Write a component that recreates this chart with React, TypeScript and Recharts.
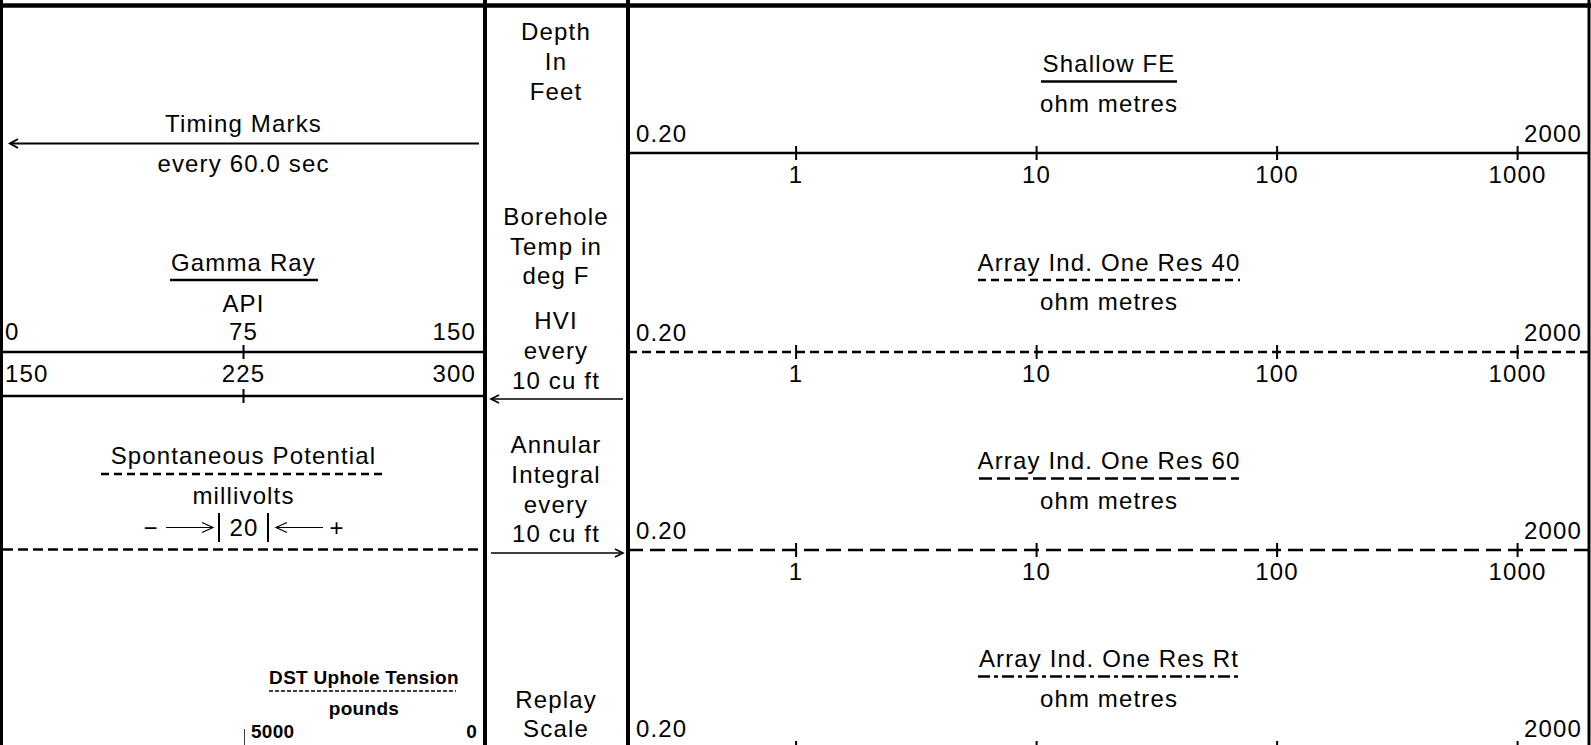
import React from 'react';
import { ComposedChart, XAxis, YAxis, Customized } from 'recharts';

const resistivityCurves = ['Shallow FE', 'Array Ind. One Res 40', 'Array Ind. One Res 60', 'Array Ind. One Res Rt'];
const resistivityUnit = 'ohm metres';
const resistivityDomain = [0.2, 2000];
const resistivityTicks = [0.2, 1, 10, 100, 1000, 2000];
const resistivityTickLabels = ['0.20', '1', '10', '100', '1000', '2000'];

const gammaCurve = 'Gamma Ray';
const gammaUnit = 'API';
const gammaDomain = [0, 150];
const gammaTicks = [0, 75, 150];
const gammaBackupDomain = [150, 300];
const gammaBackupTicks = [150, 225, 300];

const spCurve = 'Spontaneous Potential';
const spUnit = 'millivolts';
const spDivision = '20';

const tensionCurve = 'DST Uphole Tension';
const tensionUnit = 'pounds';
const tensionDomain = [0, 5000];
const tensionTicks = [5000, 0];

const timingLabel = ['Timing Marks', 'every 60.0 sec'];
const depthLabel = ['Depth', 'In', 'Feet'];
const tempLabel = ['Borehole', 'Temp in', 'deg F'];
const hviLabel = ['HVI', 'every', '10 cu ft'];
const annularLabel = ['Annular', 'Integral', 'every', '10 cu ft'];
const replayLabel = ['Replay', 'Scale'];

// ---------- layout / style constants ----------
const W = 1591;
const H = 745;
const FONT = "'Liberation Sans', Arial, Helvetica, sans-serif";
const X_DIV1 = 485;
const X_DIV2 = 628;
const LEFT_MID = 243.5;
const CENTER_MID = 556;
const RIGHT_MID = 1109;
const RES_LINES = [153, 351.5, 550, 748];
const RES_LINE_DASH = [undefined, '9 5', '15 7', '14 4 4 4'];
const RES_UNDER_DASH = [undefined, '8 5', '13 5', '12 4 4 4'];
const RES_UNDER_HALF = [68, 131, 130, 131];

const T = ({ x, y, children, anchor = 'middle', size = 24, bold = false }: any) => (
  <text
    x={x}
    y={y}
    textAnchor={anchor}
    fontFamily={FONT}
    fontSize={size}
    fontWeight={bold ? 'bold' : 'normal'}
    letterSpacing={bold ? 0.3 : 1.15}
    fill="#000"
  >
    {children}
  </text>
);

const Arrow = ({ from, tip, y, sw = 1.6, head = 8, spread = 4 }: any) => {
  const s = tip > from ? 1 : -1;
  return (
    <g stroke="#000" strokeWidth={sw} fill="none">
      <line x1={from} x2={tip} y1={y} y2={y} />
      <polyline points={`${tip - s * head},${y - spread} ${tip},${y} ${tip - s * head},${y + spread}`} />
    </g>
  );
};

const Frame = () => (
  <g>
    <rect x={0} y={0} width={W} height={H} fill="#fff" />
    {/* borders and track dividers */}
    <g stroke="#000">
      <line x1={0} x2={W} y1={5.5} y2={5.5} strokeWidth={4.5} />
      <line x1={1.5} x2={1.5} y1={0} y2={H} strokeWidth={3} />
      <line x1={X_DIV1} x2={X_DIV1} y1={0} y2={H} strokeWidth={4} />
      <line x1={X_DIV2} x2={X_DIV2} y1={0} y2={H} strokeWidth={4} />
      <line x1={1589} x2={1589} y1={0} y2={H} strokeWidth={3} />
    </g>

    {/* left track */}
    <T x={LEFT_MID} y={132}>{timingLabel[0]}</T>
    <Arrow from={479} tip={10} y={143.5} sw={2} head={8} spread={4.5} />
    <T x={LEFT_MID} y={172}>{timingLabel[1]}</T>

    <T x={LEFT_MID} y={270.5}>{gammaCurve}</T>
    <line x1={170} x2={318} y1={280} y2={280} stroke="#000" strokeWidth={2.5} />
    <T x={LEFT_MID} y={312}>{gammaUnit}</T>

    <T x={LEFT_MID} y={463.5}>{spCurve}</T>
    <line x1={101} x2={385} y1={474} y2={474} stroke="#000" strokeWidth={2.5} strokeDasharray="8 5" />
    <T x={LEFT_MID} y={504}>{spUnit}</T>
    <T x={151} y={535.5}>−</T>
    <Arrow from={166} tip={213} y={527.5} sw={1.2} head={11} spread={5} />
    <line x1={219} x2={219} y1={513} y2={542} stroke="#000" strokeWidth={2} />
    <T x={244} y={535.5}>{spDivision}</T>
    <line x1={268} x2={268} y1={513} y2={542} stroke="#000" strokeWidth={2} />
    <Arrow from={323} tip={276} y={527.5} sw={1.2} head={11} spread={5} />
    <T x={337} y={535.5}>+</T>
    <line x1={3} x2={483} y1={549.5} y2={549.5} stroke="#000" strokeWidth={2.5} strokeDasharray="10 5" />

    <T x={364} y={684} size={19} bold>{tensionCurve}</T>
    <line x1={269} x2={456} y1={691} y2={691} stroke="#000" strokeWidth={1.5} strokeDasharray="4 2" />
    <T x={364} y={715} size={19} bold>{tensionUnit}</T>

    {/* depth track */}
    {depthLabel.map((s, i) => (
      <T key={'d' + i} x={CENTER_MID} y={40 + i * 29.8}>{s}</T>
    ))}
    {tempLabel.map((s, i) => (
      <T key={'t' + i} x={CENTER_MID} y={225 + i * 29.5}>{s}</T>
    ))}
    {hviLabel.map((s, i) => (
      <T key={'h' + i} x={CENTER_MID} y={329 + i * 30}>{s}</T>
    ))}
    <Arrow from={623} tip={491} y={399} sw={1.6} head={8} spread={4} />
    {annularLabel.map((s, i) => (
      <T key={'a' + i} x={CENTER_MID} y={453 + i * 29.8}>{s}</T>
    ))}
    <Arrow from={491} tip={623} y={553} sw={1.6} head={8} spread={4} />
    {replayLabel.map((s, i) => (
      <T key={'r' + i} x={CENTER_MID} y={707.5 + i * 29.5}>{s}</T>
    ))}

    {/* resistivity track titles */}
    {resistivityCurves.map((name, i) => {
      const L = RES_LINES[i];
      return (
        <g key={'res' + i}>
          <T x={RIGHT_MID} y={L - 81}>{name}</T>
          <line
            x1={RIGHT_MID - RES_UNDER_HALF[i]}
            x2={RIGHT_MID + RES_UNDER_HALF[i]}
            y1={L - 71.5}
            y2={L - 71.5}
            stroke="#000"
            strokeWidth={2.5}
            strokeDasharray={RES_UNDER_DASH[i]}
          />
          <T x={RIGHT_MID} y={L - 41.5}>{resistivityUnit}</T>
        </g>
      );
    })}
  </g>
);

// ---------- scale axis drawn by recharts ----------
const AX = 60;
const CH = 120;

function ScaleAxis({ left, width, lineY, domain, ticks, scale = 'linear', reversed = false, axisLine, renderTick }: any) {
  const data = domain.map((v: number) => ({ v }));
  return (
    <div style={{ position: 'absolute', left, top: lineY - AX, width, height: CH, pointerEvents: 'none' }}>
      <ComposedChart width={width} height={CH} data={data} margin={{ top: 0, right: 0, bottom: 0, left: 0 }}>
        <XAxis
          dataKey="v"
          type="number"
          scale={scale}
          domain={domain}
          ticks={ticks}
          interval={0}
          orientation="top"
          height={AX}
          reversed={reversed}
          allowDataOverflow
          axisLine={axisLine}
          tickLine={false}
          tick={(p: any) => renderTick(p)}
        />
        <YAxis hide domain={[0, 1]} />
      </ComposedChart>
    </div>
  );
}

const gammaTick = (labels: number[], rise: number) => (p: any) => {
  const i = p.index;
  const x = p.x;
  const label = String(labels[i]);
  if (i === 0) return <T x={x + 3} y={AX - rise} anchor="start">{label}</T>;
  if (i === labels.length - 1) return <T x={x - 9} y={AX - rise} anchor="end">{label}</T>;
  return (
    <g>
      <line x1={x} x2={x} y1={AX - 7} y2={AX + 7} stroke="#000" strokeWidth={2} />
      <T x={x} y={AX - rise}>{label}</T>
    </g>
  );
};

const resTick = (showBelow: boolean) => (p: any) => {
  const i = p.index;
  const x = p.x;
  const label = resistivityTickLabels[i];
  if (i === 0) return <T x={x + 8} y={AX - 11} anchor="start">{label}</T>;
  if (i === resistivityTicks.length - 1) return <T x={x - 8} y={AX - 11} anchor="end">{label}</T>;
  return (
    <g>
      <line x1={x} x2={x} y1={AX - 7} y2={AX + 7} stroke="#000" strokeWidth={2} />
      {showBelow ? <T x={x} y={AX + 29.5}>{label}</T> : null}
    </g>
  );
};

const tensionTick = (p: any) => {
  const i = p.index;
  const x = p.x;
  const label = String(tensionTicks[i]);
  if (i === 0)
    return (
      <g>
        <line x1={x} x2={x} y1={AX - 19} y2={AX} stroke="#000" strokeWidth={1.5} />
        <T x={x + 7} y={AX - 10} anchor="start" size={19} bold>{label}</T>
      </g>
    );
  return <T x={x - 8} y={AX - 10} anchor="end" size={19} bold>{label}</T>;
};

export default function App() {
  return (
    <div style={{ position: 'absolute', left: 0, top: 0, width: W, height: H, overflow: 'hidden', background: '#fff' }}>
      <div style={{ position: 'absolute', left: 0, top: 0 }}>
        <ComposedChart width={W} height={H} data={[{ v: 0 }]} margin={{ top: 0, right: 0, bottom: 0, left: 0 }}>
          <XAxis hide dataKey="v" type="number" domain={[0, 1]} />
          <YAxis hide domain={[0, 1]} />
          <Customized component={Frame} />
        </ComposedChart>
      </div>

      <ScaleAxis
        left={2}
        width={X_DIV1 - 2}
        lineY={351.5}
        domain={gammaDomain}
        ticks={gammaTicks}
        axisLine={{ stroke: '#000', strokeWidth: 2.5 }}
        renderTick={gammaTick(gammaTicks, 12.5)}
      />
      <ScaleAxis
        left={2}
        width={X_DIV1 - 2}
        lineY={395.5}
        domain={gammaBackupDomain}
        ticks={gammaBackupTicks}
        axisLine={{ stroke: '#000', strokeWidth: 2.5 }}
        renderTick={gammaTick(gammaBackupTicks, 14.5)}
      />
      <ScaleAxis
        left={244}
        width={X_DIV1 - 244}
        lineY={748}
        domain={tensionDomain}
        ticks={tensionTicks}
        reversed
        axisLine={false}
        renderTick={tensionTick}
      />
      {resistivityCurves.map((name, i) => (
        <ScaleAxis
          key={name}
          left={X_DIV2}
          width={962}
          lineY={RES_LINES[i]}
          domain={resistivityDomain}
          ticks={resistivityTicks}
          scale="log"
          axisLine={{ stroke: '#000', strokeWidth: 2.5, strokeDasharray: RES_LINE_DASH[i] }}
          renderTick={resTick(i < resistivityCurves.length - 1)}
        />
      ))}
    </div>
  );
}
